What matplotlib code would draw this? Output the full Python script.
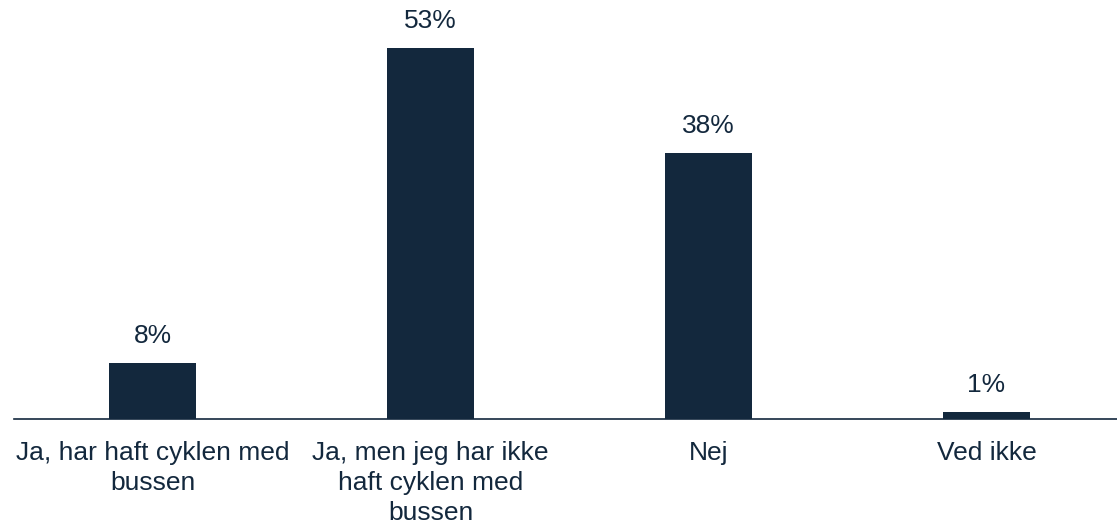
import matplotlib.pyplot as plt

# Data
kategorier = ["Ja, har haft cyklen med\nbussen",
              "Ja, men jeg har ikke\nhaft cyklen med\nbussen",
              "Nej",
              "Ved ikke"]
andel = [8, 53, 38, 1]

farve = "#13283d"
plt.rcParams['font.family'] = ['Liberation Sans', 'DejaVu Sans']

fig = plt.figure(figsize=(11.17, 5.25), dpi=100)
ax = fig.add_axes([0.0125, 0.202, 0.9875, 0.798])

x = range(len(kategorier))
ax.bar(x, andel, width=0.313, color=farve)

for i, v in zip(x, andel):
    ax.text(i, v + 2.2, f"{v}%", ha="center", va="bottom", fontsize=19, color=farve)

ax.set_xlim(-0.5, 3.47)
ax.set_ylim(0, 59.9)
ax.set_xticks(list(x))
ax.set_xticklabels(kategorier, fontsize=19, color=farve, linespacing=1.3)
ax.tick_params(axis="x", length=0, pad=16)
ax.set_yticks([])

for side in ["top", "right", "left"]:
    ax.spines[side].set_visible(False)
ax.spines["bottom"].set_color(farve)
ax.spines["bottom"].set_linewidth(1.2)

fig.savefig("out.png", dpi=100)
